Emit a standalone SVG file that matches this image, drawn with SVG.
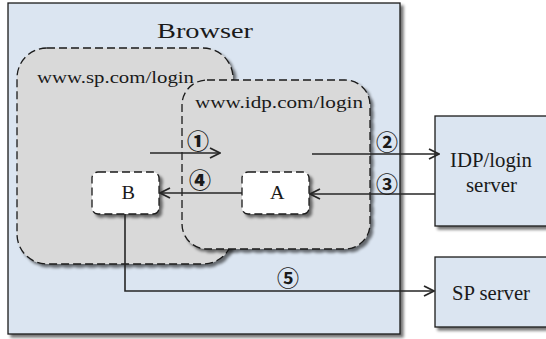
<svg xmlns="http://www.w3.org/2000/svg" width="546" height="339" viewBox="0 0 546 339">
<defs>
<filter id="sh" x="-10%" y="-10%" width="130%" height="130%">
<feGaussianBlur in="SourceAlpha" stdDeviation="1.5"/>
<feOffset dx="2.5" dy="3" result="o"/>
<feComponentTransfer><feFuncA type="linear" slope="0.55"/></feComponentTransfer>
<feMerge><feMergeNode/><feMergeNode in="SourceGraphic"/></feMerge>
</filter>
<marker id="ah" viewBox="0 0 12 12" refX="11" refY="6" markerWidth="12" markerHeight="12" markerUnits="userSpaceOnUse" orient="auto">
<polyline points="1,1 11,6 1,11" fill="none" stroke="#262626" stroke-width="1.8"/>
</marker>
<style>
.solid{fill:#dbe5f1;stroke:#1a1a1a;stroke-width:1.3}
.dash{fill:#d9d9d9;stroke:#1a1a1a;stroke-width:1.3;stroke-dasharray:8 4}
.wdash{fill:#ffffff;stroke:#1a1a1a;stroke-width:1.3;stroke-dasharray:8 4}
.t{fill:#1a1a1a;font-family:'Liberation Serif','DejaVu Serif','Noto Serif','Noto Serif CJK JP','Tinos','FreeSerif',serif}
.n{fill:#1a1a1a;font-size:22px;text-anchor:middle;dominant-baseline:central;font-family:'Noto Sans CJK JP',sans-serif;font-weight:bold}
.b{font-weight:900}
.c{fill:none;stroke:#262626;stroke-width:1.6}
</style>
</defs>
<g id="browser">
<rect class="solid" x="8" y="3" width="392" height="331" filter="url(#sh)"/>
<text class="t" x="157" y="38" font-size="21.5" textLength="96" lengthAdjust="spacingAndGlyphs">Browser</text>
</g>
<g id="sp-login">
<rect class="dash" x="17" y="48" width="216" height="216" rx="30" filter="url(#sh)"/>
<text class="t" x="37" y="83" font-size="17" textLength="157" lengthAdjust="spacingAndGlyphs">www.sp.com/login</text>
</g>
<g id="idp-login">
<rect class="dash" x="182" y="80" width="188" height="169" rx="25" filter="url(#sh)"/>
<text class="t" x="195" y="108" font-size="17" textLength="168" lengthAdjust="spacingAndGlyphs">www.idp.com/login</text>
</g>
<g id="B">
<rect class="wdash" x="92" y="172" width="67" height="42" rx="6" filter="url(#sh)"/>
<text class="t" x="121.5" y="199" font-size="18" textLength="13.5" lengthAdjust="spacingAndGlyphs">B</text>
</g>
<g id="A">
<rect class="wdash" x="242" y="172" width="67" height="42" rx="6" filter="url(#sh)"/>
<text class="t" x="270" y="199" font-size="18" textLength="14.5" lengthAdjust="spacingAndGlyphs">A</text>
</g>
<g id="idp-server">
<rect class="solid" x="435" y="116" width="115" height="110" filter="url(#sh)"/>
<text class="t" x="450" y="167" font-size="20.5" textLength="82" lengthAdjust="spacingAndGlyphs">IDP/login</text>
<text class="t" x="466" y="192" font-size="20.5" textLength="51" lengthAdjust="spacingAndGlyphs">server</text>
</g>
<g id="sp-server">
<rect class="solid" x="435" y="257" width="115" height="70" filter="url(#sh)"/>
<text class="t" x="452" y="300" font-size="21" textLength="78" lengthAdjust="spacingAndGlyphs">SP server</text>
</g>
<g id="connectors">
<line class="c" x1="150" y1="153" x2="220" y2="153" marker-end="url(#ah)"/>
<line class="c" x1="312" y1="154" x2="439" y2="154" marker-end="url(#ah)"/>
<line class="c" x1="435" y1="194" x2="310" y2="194" marker-end="url(#ah)"/>
<line class="c" x1="242" y1="193" x2="160" y2="193" marker-end="url(#ah)"/>
<polyline class="c" points="125,214 125,291 434,291" marker-end="url(#ah)"/>
<text class="n b" x="198" y="139">①</text>
<text class="n" x="387" y="140">②</text>
<text class="n" x="387" y="182">③</text>
<text class="n b" x="200" y="178">④</text>
<text class="n" x="288" y="276">⑤</text>
</g>
</svg>
